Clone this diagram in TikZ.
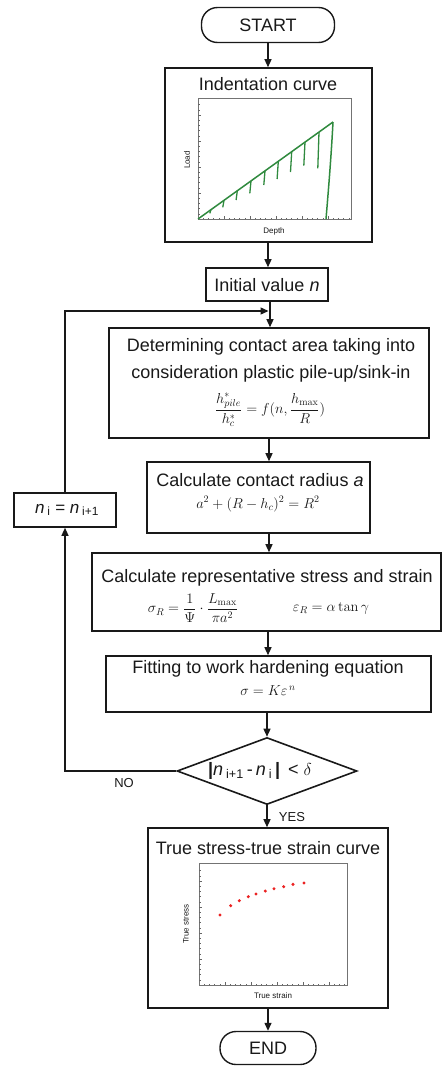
\documentclass[tikz,border=0pt]{standalone}
\usepackage[no-math]{fontspec}
\setmainfont{Liberation Sans}
\usetikzlibrary{arrows.meta,shapes.geometric}
\definecolor{curvegreen}{RGB}{47,138,62}
\definecolor{dotred}{RGB}{235,35,35}
\definecolor{ink}{RGB}{25,25,25}
\tikzset{
  box/.style={draw=ink, line width=1.6pt, inner sep=0pt, rectangle},
  term/.style={draw=ink, line width=1.4pt, inner sep=0pt, rectangle, rounded corners=16pt},
  arr/.style={draw=ink, line width=1.3pt, -{Triangle[length=8pt,width=7pt]}},
  lbl/.style={font=\fontsize{18}{20}\selectfont, text=ink, inner sep=0pt},
  eq/.style={font=\fontsize{14}{16}\selectfont, text=ink, inner sep=0pt},
  small/.style={font=\fontsize{13}{14}\selectfont, text=ink, inner sep=0pt},
  axlbl/.style={font=\fontsize{8}{9}\selectfont, text=ink, inner sep=0pt},
  frame/.style={draw=black!55, line width=0.8pt},
  tick/.style={draw=black!60, line width=0.5pt},
}
\begin{document}
\begin{tikzpicture}[x=1pt,y=-1pt]
\useasboundingbox (0,0) rectangle (443,1066);

% ---- boxes ----
\node[term, minimum width=133pt, minimum height=35pt] (start) at (268,25) {};
\node[box, minimum width=207pt, minimum height=174pt] (indent) at (268.5,155) {};
\node[box, minimum width=122pt, minimum height=33pt] (init) at (267,284.5) {};
\node[box, minimum width=320pt, minimum height=110pt] (det) at (269,383) {};
\node[box, minimum width=223pt, minimum height=71pt] (rad) at (258.5,497.5) {};
\node[box, minimum width=349pt, minimum height=78pt] (rep) at (266.5,592) {};
\node[box, minimum width=325pt, minimum height=56pt] (fit) at (268.5,684) {};
\node[draw=ink, line width=1.6pt, diamond, inner sep=0pt, aspect=2.7,
      minimum width=180pt, minimum height=67pt] (dia) at (267,771) {};
\node[box, minimum width=240pt, minimum height=180pt] (true) at (268,918) {};
\node[term, minimum width=96pt, minimum height=33pt] (end) at (268,1048) {};
\node[box, minimum width=102pt, minimum height=34pt] (ni) at (65,510) {};

% ---- texts ----
\node[lbl] (startt) at (268,25) {START};
\node[lbl] (endt) at (268,1048) {END};
\node[lbl] (indt) at (268,84) {Indentation curve};
\node[lbl] (initt) at (267,285) {Initial value \textit{n}};
\node[lbl] (dett1) at (271,347) {Determining contact area taking into};
\node[lbl] (dett2) at (271,374) {consideration plastic pile-up/sink-in};
\node[eq] (dete) at (270,410) {$\displaystyle \frac{h^{*}_{pile}}{h^{*}_{c}} = f\Bigl(n,\frac{h_{\max}}{R}\Bigr)$};
\node[lbl] (radt) at (260,480) {Calculate contact radius \textit{a}};
\node[eq] (rade) at (258,504) {$a^{2} + (R - h_{c})^{2} = R^{2}$};
\node[lbl] (rept) at (267,578) {Calculate representative stress and strain};
\node[eq] (repe1) at (193,608) {$\displaystyle \sigma_{R} = \frac{1}{\Psi}\cdot\frac{L_{\max}}{\pi a^{2}}$};
\node[eq] (repe2) at (331,608) {$\varepsilon_{R} = \alpha\tan\gamma$};
\node[lbl] (fitt) at (268,669) {Fitting to work hardening equation};
\node[eq] (fite) at (268,691) {$\sigma = K\varepsilon^{\,n}$};
\node[lbl] (diat) at (260,771) {\textbf{|}\textit{n}\,\textsubscript{i+1}\,-\,\textit{n}\,\textsubscript{i}\,\textbf{|}\, < $\delta$};
\node[lbl, font=\fontsize{17}{19}\selectfont] (nit) at (67,510) {\textit{n}\,\textsubscript{i} = \textit{n}\,\textsubscript{i+1}};
\node[lbl] (truet) at (268,848) {True stress-true strain curve};
\node[small] (no) at (124,783) {NO};
\node[small] (yes) at (292,817) {YES};

% ---- connectors ----
\draw[arr] (start.south) -- (start.south |- indent.north);
\draw[arr] (indent.south -| start.south) -- (init.north -| start.south);
\coordinate (joinx) at (270,302);
\draw[arr] (joinx) -- (joinx |- det.north);
\coordinate (join) at (268.5,311);
\draw[arr] (ni.north) |- (join);
\draw[arr] (det.south -| 269,0) -- (rad.north -| 269,0);
\draw[arr] (rad.south -| 269,0) -- (rep.north -| 269,0);
\draw[arr] (rep.south -| 268,0) -- (fit.north -| 268,0);
\draw[arr] (fit.south -| dia.north) -- (dia.north);
\draw[arr] (dia.south) -- (dia.south |- true.north);
\draw[arr] (true.south -| end.north) -- (end.north);
\draw[arr] (dia.west) -| (ni.south);

% ---- indentation plot ----
\draw[frame] (198,98) rectangle (351,219);
\foreach \i in {1,...,22} {
  \pgfmathsetmacro\yy{219-\i*5.2}
  \pgfmathsetmacro\ll{ifthenelse(mod(\i,5)==0,3,1.5)}
  \draw[tick] (198,\yy) -- (198+\ll,\yy);
}
\foreach \i in {1,...,29} {
  \pgfmathsetmacro\xx{198+\i*5.2}
  \pgfmathsetmacro\ll{ifthenelse(mod(\i,5)==0,3,1.5)}
  \draw[tick] (\xx,219) -- (\xx,219-\ll);
}
\node[axlbl, rotate=90] (loadl) at (187,160) {Load};
\node[axlbl] (depthl) at (274,231) {Depth};
\draw[curvegreen, line width=1.5pt, line join=round] (198,219) -- (333,122);
\draw[curvegreen, line width=1.5pt] (333,122) .. controls (331,160) and (328,195) .. (326,219);
\foreach \x/\yb in {211/213.3, 224/207.3, 237.3/200, 251/193.3, 265/185, 278.3/179, 291.7/172, 305/165.7, 319/168.3} {
  \pgfmathsetmacro\yl{219-0.7185*(\x-198)}
  \draw[curvegreen, line width=1.3pt] (\x,\yl) -- (\x-1.2,\yb);
}

% ---- true stress plot ----
\draw[frame] (199,863) rectangle (347,985);
\foreach \i in {1,...,22} {
  \pgfmathsetmacro\yy{985-\i*5.2}
  \pgfmathsetmacro\ll{ifthenelse(mod(\i,5)==0,3,1.5)}
  \draw[tick] (199,\yy) -- (199+\ll,\yy);
}
\foreach \i in {1,...,28} {
  \pgfmathsetmacro\xx{199+\i*5.2}
  \pgfmathsetmacro\ll{ifthenelse(mod(\i,5)==0,3,1.5)}
  \draw[tick] (\xx,985) -- (\xx,985-\ll);
}
\node[axlbl, rotate=90] (tsl) at (186,924) {True stress};
\node[axlbl] (tel) at (273,996) {True strain};
\foreach \x/\y in {220/915, 230.7/905.7, 239.3/900.7, 248.3/896.7, 256/894, 265.3/891, 274/888.7, 283.7/886.7, 293/884.3, 304/883} {
  \fill[dotred] (\x,\y) circle (1.7);
}
\end{tikzpicture}
\end{document}
